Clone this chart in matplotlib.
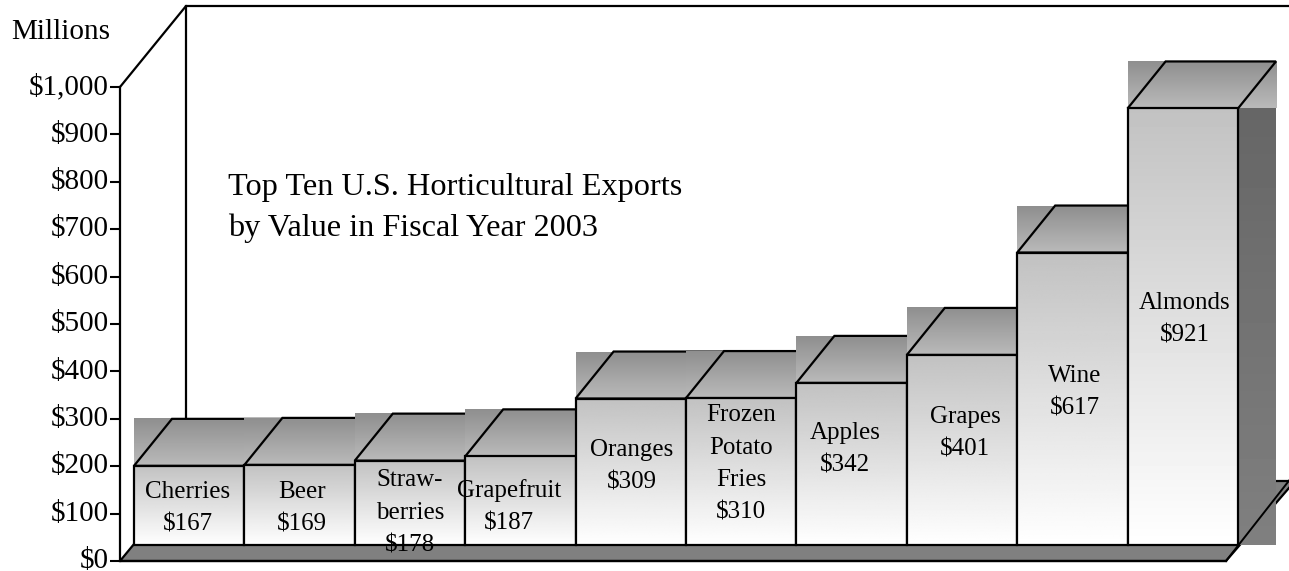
import matplotlib
matplotlib.use('Agg')
import matplotlib.pyplot as plt
import numpy as np
from matplotlib.patches import Polygon, Rectangle
from matplotlib.transforms import ScaledTranslation

labels = ['Cherries\n$167', 'Beer\n$169', 'Straw-\nberries\n$178', 'Grapefruit\n$187', 'Oranges\n$309',
          'Frozen\nPotato\nFries\n$310', 'Apples\n$342', 'Grapes\n$401', 'Wine\n$617', 'Almonds\n$921']
values = [167, 169, 178, 187, 309, 310, 342, 401, 617, 921]
yticks = [0, 100, 200, 300, 400, 500, 600, 700, 800, 900, 1000]
ytick_labels = ['$0', '$100', '$200', '$300', '$400', '$500', '$600', '$700', '$800', '$900', '$1,000']

# layout, in pixels of the picture
W, H = 1289, 571
px_left, px_zero, px_top = 120, 561, 87
bar_w_px = 110.4
bar_x0_px = 134
label_x_px = [188, 302, 410, 509, 632, 741, 845, 965, 1075, 1185]
label_y_px = [508, 508, 513, 507, 466, 464, 449, 433, 392, 319]
linesp = 1.62

plt.rcParams['font.family'] = ['Liberation Serif', 'DejaVu Serif']

fig = plt.figure(figsize=(W / 100, H / 100), dpi=100)
ax = fig.add_axes([px_left / W, (H - px_zero) / H, (W - px_left) / W, (px_zero - px_top) / H])
ax.patch.set_visible(False)

val_per_px = 1000 / (px_zero - px_top)


def fx(px):
    return (px - bar_x0_px) / bar_w_px


def fy(py):
    return (px_zero - py) * val_per_px


def grad(x0, x1, y0, y1, top, bottom, z):
    g = np.linspace(top, bottom, 128).reshape(-1, 1)
    ax.imshow(g, extent=[x0, x1, y0, y1], origin='upper', aspect='auto', cmap='gray', vmin=0, vmax=1,
              zorder=z, clip_on=False, interpolation='bilinear')


def line(xs, ys, z, lw=1.6):
    ax.plot(xs, ys, color='black', lw=lw, zorder=z, clip_on=False, solid_capstyle='projecting')


# back wall and axis
line([fx(120), fx(186), fx(1295)], [fy(87), fy(6), fy(6)], 1)
line([fx(186), fx(186)], [fy(6), fy(481)], 1)

# floor
ax.add_patch(Polygon([[fx(120), fy(561)], [fx(186), fy(481)], [fx(1295), fy(481)], [fx(1226), fy(561)]],
                     closed=True, facecolor='#808080', edgecolor='black', lw=1.6, zorder=2, clip_on=False))

base = fy(545)
dx = 38 / bar_w_px
dy = 47 * val_per_px

z = 3
for i, v in enumerate(values):
    top = base + v
    # side
    grad(i + 1, i + 1 + dx, base, top, 0.40, 0.50, z)
    # top face, the fill bleeds out of the parallelogram
    grad(i, i + 1 + dx, top, top + dy, 0.56, 0.73, z + 1)
    ax.add_patch(Polygon([[i, top], [i + dx, top + dy], [i + 1 + dx, top + dy], [i + 1, top]], closed=True,
                         fill=False, edgecolor='black', lw=1.6, zorder=z + 2, clip_on=False))
    # front
    grad(i, i + 1, base, top, 0.76, 1.0, z + 3)
    ax.add_patch(Rectangle((i, base), 1, v, fill=False, edgecolor='black', lw=1.6, zorder=z + 4, clip_on=False))
    z += 5

# diagonal of the floor runs over the last side
line([fx(1226), fx(1295)], [fy(561), fy(473)], z, lw=1.4)

for lab, lx, ly in zip(labels, label_x_px, label_y_px):
    ax.text(fx(lx), fy(ly), lab, ha='center', va='center', fontsize=18, linespacing=linesp,
            zorder=z + 1, clip_on=False)

ax.text(fx(228), fy(208), 'Top Ten U.S. Horticultural Exports\nby Value in Fiscal Year 2003', ha='left', va='center',
        fontsize=23.2, linespacing=1.47, zorder=z + 1)
ax.text(fx(11), fy(32), 'Millions', ha='left', va='center', fontsize=21, zorder=z + 1)

ax.set_xlim(fx(px_left), fx(W))
ax.set_ylim(0, 1000)
ax.set_xticks([])
ax.set_yticks(yticks)
ax.set_yticklabels(ytick_labels, fontsize=21)
ax.tick_params(axis='y', length=7, width=1.5, pad=1)
# labels sit a little above their ticks, which keeps $0 inside the picture
for t in ax.get_yticklabels():
    t.set_transform(t.get_transform() + ScaledTranslation(0, 2 / 72, fig.dpi_scale_trans))
for s in ['top', 'right', 'bottom']:
    ax.spines[s].set_visible(False)
ax.spines['left'].set_linewidth(1.6)
line([fx(120), fx(1226)], [0, 0], z)

fig.savefig('out.png', dpi=100)
